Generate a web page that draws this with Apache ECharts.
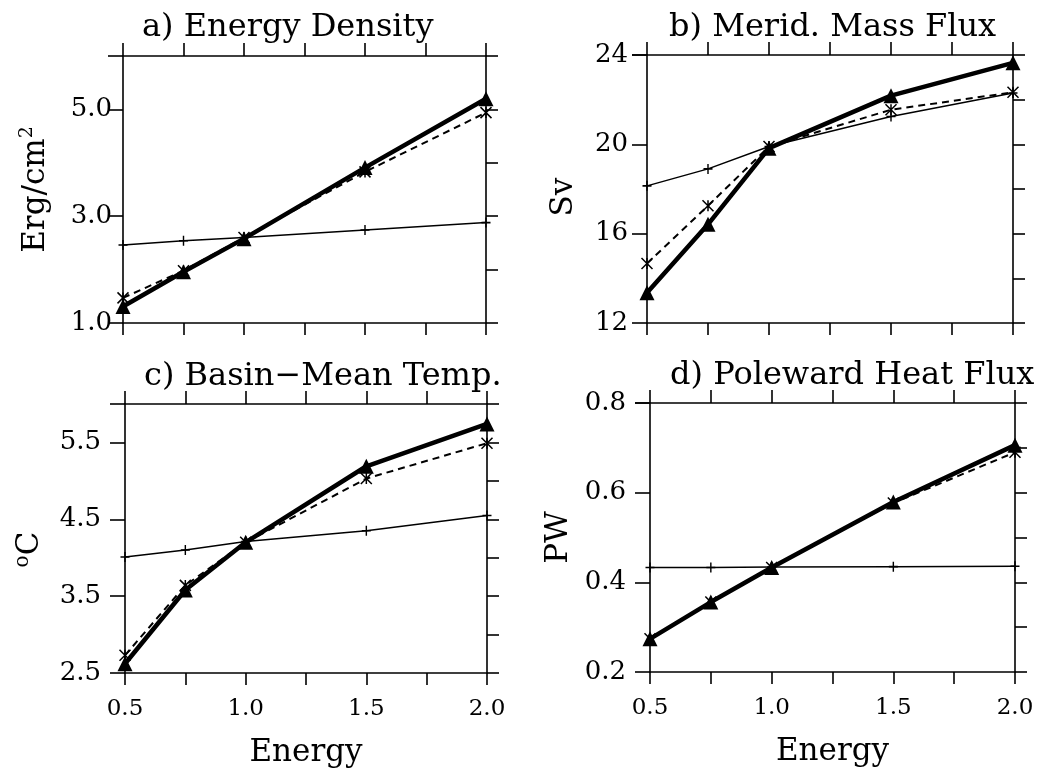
<!DOCTYPE html>
<html>
<head>
<meta charset="utf-8">
<script src="https://cdn.jsdelivr.net/npm/echarts@6/dist/echarts.min.js"></script>
<style>
html,body{margin:0;padding:0;background:#fff;}
#chart{width:1058px;height:768px;}
</style>
</head>
<body>
<div id="chart"></div>
<script>
// ---- data ----
const energy = [0.5, 0.75, 1.0, 1.5, 2.0];
const xTickLabels = [0.5, 1.0, 1.5, 2.0];

const titles = ['a) Energy Density', 'b) Merid. Mass Flux', 'c) Basin\u2212Mean Temp.', 'd) Poleward Heat Flux'];
const yNames = ['Erg/cm{sup|2}', 'Sv', '{deg|o}C', 'PW'];

// panel a: Energy density
const aThin  = [2.46, 2.54, 2.60, 2.74, 2.88];
const aThick = [1.31, 1.96, 2.58, 3.91, 5.20];
const aDash  = [1.47, 1.98, 2.60, 3.83, 4.94];
const aYLabels = [1.0, 3.0, 5.0];

// panel b: Meridional mass flux
const bThin  = [18.14, 18.90, 19.90, 21.25, 22.30];
const bThick = [13.35, 16.42, 19.83, 22.18, 23.65];
const bDash  = [14.66, 17.25, 19.90, 21.55, 22.33];
const bYLabels = [12, 16, 20, 24];

// panel c: Basin-mean temperature
const cThin  = [4.01, 4.10, 4.21, 4.35, 4.55];
const cThick = [2.62, 3.58, 4.20, 5.19, 5.74];
const cDash  = [2.73, 3.64, 4.20, 5.03, 5.49];
const cYLabels = [2.5, 3.5, 4.5, 5.5];

// panel d: Poleward heat flux
const dThin  = [0.433, 0.433, 0.434, 0.435, 0.436];
const dThick = [0.274, 0.356, 0.433, 0.579, 0.706];
const dDash  = [0.274, 0.356, 0.433, 0.577, 0.690];
const dYLabels = [0.2, 0.4, 0.6, 0.8];

// ---- layout / style ----
const FONT = 'DejaVu Serif';
const panels = [
  {grid:{left:123, top:56, width:363, height:267}, min:1, max:6, step:1, dec:1, labels:aYLabels,
   thin:aThin, thick:aThick, dash:aDash, xLabels:false, labelMargin:11, nameGap:70, namePad:[0,0,0,0], titlePos:{left:137, top:7}},
  {grid:{left:647, top:55, width:366, height:268}, min:12, max:24, step:2, dec:0, labels:bYLabels,
   thin:bThin, thick:bThick, dash:bDash, xLabels:false, labelMargin:19, nameGap:68, namePad:[0,16,0,0], titlePos:{left:664, top:7}},
  {grid:{left:125, top:404, width:362, height:269}, min:2.5, max:6.0, step:0.5, dec:1, labels:cYLabels,
   thin:cThin, thick:cThick, dash:cDash, xLabels:true, labelMargin:24, nameGap:78, namePad:[0,22,0,0], titlePos:{left:139, top:356}},
  {grid:{left:650, top:403, width:365, height:269}, min:0.2, max:0.8, step:0.1, dec:1, labels:dYLabels,
   thin:dThin, thick:dThick, dash:dDash, xLabels:true, labelMargin:24, nameGap:76, namePad:[0,0,0,0], titlePos:{left:665, top:355}}
];

const lineW = 1.6;
const option = {
  backgroundColor:'#fff',
  animation:false,
  title:[], grid:[], xAxis:[], yAxis:[], series:[]
};

panels.forEach((p, i) => {
  option.title.push({
    text: titles[i], left: p.titlePos.left, top: p.titlePos.top,
    textStyle:{fontFamily:FONT, fontSize:32, fontWeight:'normal', color:'#000'}
  });
  option.grid.push(Object.assign({show:false, containLabel:false, outerBoundsMode:'none'}, p.grid));
  const xi = i*2, yi = i*2;
  // bottom x axis
  option.xAxis.push({
    type:'value', gridIndex:i, position:'bottom', min:0.5, max:2.0, interval:0.25,
    axisLine:{show:true, onZero:false, lineStyle:{color:'#000', width:lineW}},
    axisTick:{show:true, inside:false, length:12, lineStyle:{color:'#000', width:lineW}},
    axisLabel:{show:p.xLabels, customValues:xTickLabels, margin:25, formatter:v=>Number(v).toFixed(1),
      fontFamily:FONT, fontSize:23, color:'#000'},
    splitLine:{show:false},
    name: p.xLabels ? 'Energy' : '', nameLocation:'middle', nameGap:64,
    nameTextStyle:{fontFamily:FONT, fontSize:31, color:'#000', verticalAlign:'top'}
  });
  // top x axis
  option.xAxis.push({
    type:'value', gridIndex:i, position:'top', min:0.5, max:2.0, interval:0.25,
    axisLine:{show:true, onZero:false, lineStyle:{color:'#000', width:lineW}},
    axisTick:{show:true, inside:false, length:13, lineStyle:{color:'#000', width:lineW}},
    axisLabel:{show:false}, splitLine:{show:false}
  });
  // left y axis
  option.yAxis.push({
    type:'value', gridIndex:i, position:'left', min:p.min, max:p.max, interval:p.step,
    axisLine:{show:true, onZero:false, lineStyle:{color:'#000', width:lineW}},
    axisTick:{show:true, inside:false, length:15, customValues:p.labels.concat([p.max]), lineStyle:{color:'#000', width:lineW}},
    axisLabel:{show:true, customValues:p.labels, margin:p.labelMargin, formatter:v=>Number(v).toFixed(p.dec),
      fontFamily:FONT, fontSize:26, color:'#000'},
    splitLine:{show:false},
    name: yNames[i], nameLocation:'middle', nameRotate:90, nameGap:p.nameGap,
    nameTextStyle:{fontFamily:FONT, fontSize:31, color:'#000', padding:p.namePad,
      rich:{
        sup:{fontFamily:FONT, fontSize:19, verticalAlign:'top', padding:[0,0,16,0], color:'#000'},
        deg:{fontFamily:FONT, fontSize:20, verticalAlign:'top', padding:[0,0,14,0], color:'#000'}
      }}
  });
  // right y axis
  option.yAxis.push({
    type:'value', gridIndex:i, position:'right', min:p.min, max:p.max, interval:p.step,
    axisLine:{show:true, onZero:false, lineStyle:{color:'#000', width:lineW}},
    axisTick:{show:true, inside:false, length:12, lineStyle:{color:'#000', width:lineW}},
    axisLabel:{show:false}, splitLine:{show:false}
  });
  const pairs = arr => energy.map((x, k) => [x, arr[k]]);
  option.series.push({
    type:'line', xAxisIndex:xi, yAxisIndex:yi, data:pairs(p.thin), z:2,
    lineStyle:{color:'#000', width:1.5, type:'solid'},
    symbol:'path://M5,0L5,10M0,5L10,5', symbolSize:[9,10],
    itemStyle:{color:'none', borderColor:'#000', borderWidth:1.5}
  });
  option.series.push({
    type:'line', xAxisIndex:xi, yAxisIndex:yi, data:pairs(p.dash), z:3,
    lineStyle:{color:'#000', width:2, type:[7,5]},
    symbol:'path://M0,0L10,10M10,0L0,10M5,0L5,10', symbolSize:11,
    itemStyle:{color:'none', borderColor:'#000', borderWidth:1.5}
  });
  option.series.push({
    type:'line', xAxisIndex:xi, yAxisIndex:yi, data:pairs(p.thick), z:4,
    lineStyle:{color:'#000', width:4.5, type:'solid'},
    symbol:'triangle', symbolSize:15,
    itemStyle:{color:'#000', borderColor:'#000', borderWidth:0}
  });
});

const chart = echarts.init(document.getElementById('chart'), null, {renderer:'canvas'});
chart.setOption(option);
</script>
</body>
</html>
